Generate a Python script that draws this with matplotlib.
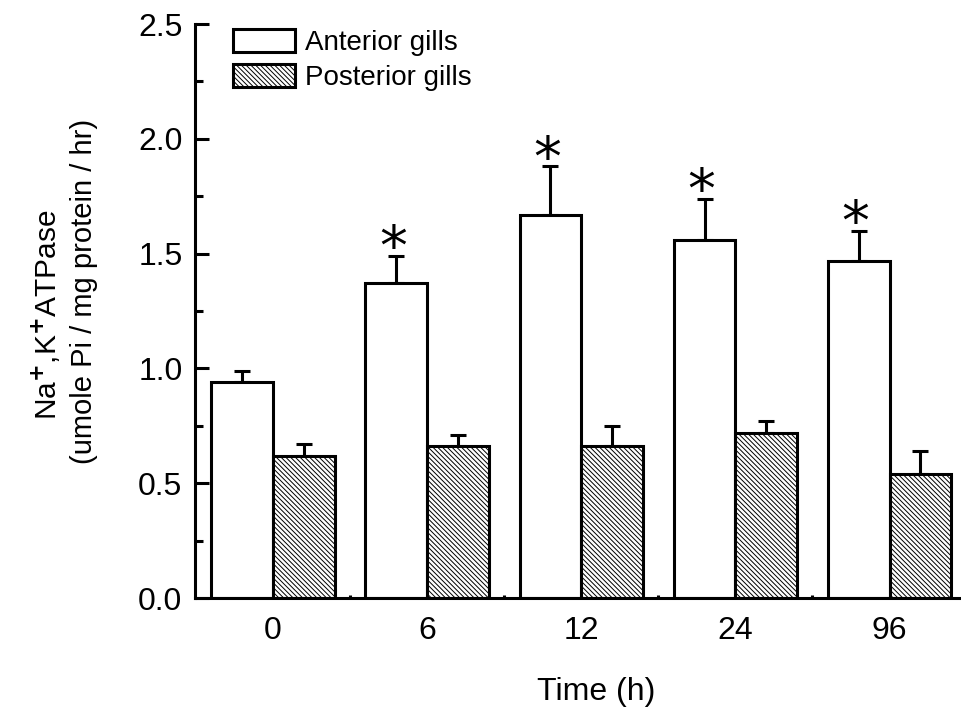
import numpy as np
import matplotlib.pyplot as plt
from matplotlib.ticker import MultipleLocator, FixedLocator

plt.rcParams['font.family'] = ['Liberation Sans', 'DejaVu Sans']
plt.rcParams['mathtext.fontset'] = 'custom'
plt.rcParams['mathtext.rm'] = 'Liberation Sans'
plt.rcParams['mathtext.bf'] = 'DejaVu Sans:bold'
plt.rcParams['hatch.linewidth'] = 0.7

# data
times = ['0', '6', '12', '24', '96']
anterior = [0.94, 1.37, 1.67, 1.56, 1.47]
anterior_err = [0.05, 0.12, 0.21, 0.18, 0.13]
posterior = [0.62, 0.66, 0.66, 0.72, 0.54]
posterior_err = [0.05, 0.05, 0.09, 0.05, 0.10]
signif = [False, True, True, True, True]

fig = plt.figure(figsize=(9.62, 7.15), dpi=100)
ax = fig.add_axes([0.2027, 0.1636, 0.7973, 0.8028])

x = np.arange(len(times))
w = 0.4
lw = 2.2

ax.bar(x - w/2, anterior, w, color='white', edgecolor='black', linewidth=lw,
       label='Anterior gills', zorder=2)
ax.bar(x + w/2, posterior, w, color='white', edgecolor='black', linewidth=lw,
       hatch='\\\\\\\\\\\\\\', label='Posterior gills', zorder=2)

zeros = [0] * len(times)
ax.errorbar(x - w/2, anterior, yerr=[zeros, anterior_err], fmt='none',
            ecolor='black', elinewidth=lw, capsize=6, capthick=lw, zorder=1)
ax.errorbar(x + w/2, posterior, yerr=[zeros, posterior_err], fmt='none',
            ecolor='black', elinewidth=lw, capsize=6, capthick=lw, zorder=1)

# significance stars
for i in range(len(times)):
    if signif[i]:
        ax.text(x[i] - w/2 - 0.02, anterior[i] + anterior_err[i] - 0.04, '*',
                ha='center', va='baseline', fontsize=40, family='DejaVu Sans')

ax.set_xlim(-0.506, 4.47)
ax.set_ylim(0, 2.5)
ax.set_xticks(x)
ax.set_xticklabels(times)
ax.xaxis.set_minor_locator(FixedLocator(x[:-1] + 0.5))
ax.yaxis.set_major_locator(MultipleLocator(0.5))
ax.yaxis.set_minor_locator(MultipleLocator(0.25))

ax.tick_params(axis='y', which='major', direction='in', length=10, width=lw, labelsize=23, pad=9)
ax.tick_params(axis='y', which='minor', direction='in', length=6, width=lw)
ax.tick_params(axis='x', which='major', length=0, labelsize=23, pad=13)
ax.tick_params(axis='x', which='minor', direction='in', length=2, width=lw)

for s in ['top', 'right']:
    ax.spines[s].set_visible(False)
for s in ['left', 'bottom']:
    ax.spines[s].set_linewidth(lw)

# axis titles
fig.text(46/962, 1 - 315/715, 'Na$^{\\mathbf{+}}$,K$^{\\mathbf{+}}$ATPase', rotation=90,
         ha='center', va='center', fontsize=21.5)
fig.text(84/962, 1 - 291/715, '(umole Pi / mg protein / hr)', rotation=90,
         ha='center', va='center', fontsize=21)
fig.text(596/962, 1 - 700/715, 'Time (h)', ha='center', va='baseline', fontsize=23)

ax.legend(loc='upper left', bbox_to_anchor=(0.0495, 0.992), frameon=False,
          fontsize=20, handlelength=2.23, handleheight=0.9, handletextpad=0.36,
          labelspacing=0.3, borderaxespad=0, borderpad=0)

fig.savefig('out.png', dpi=100)
